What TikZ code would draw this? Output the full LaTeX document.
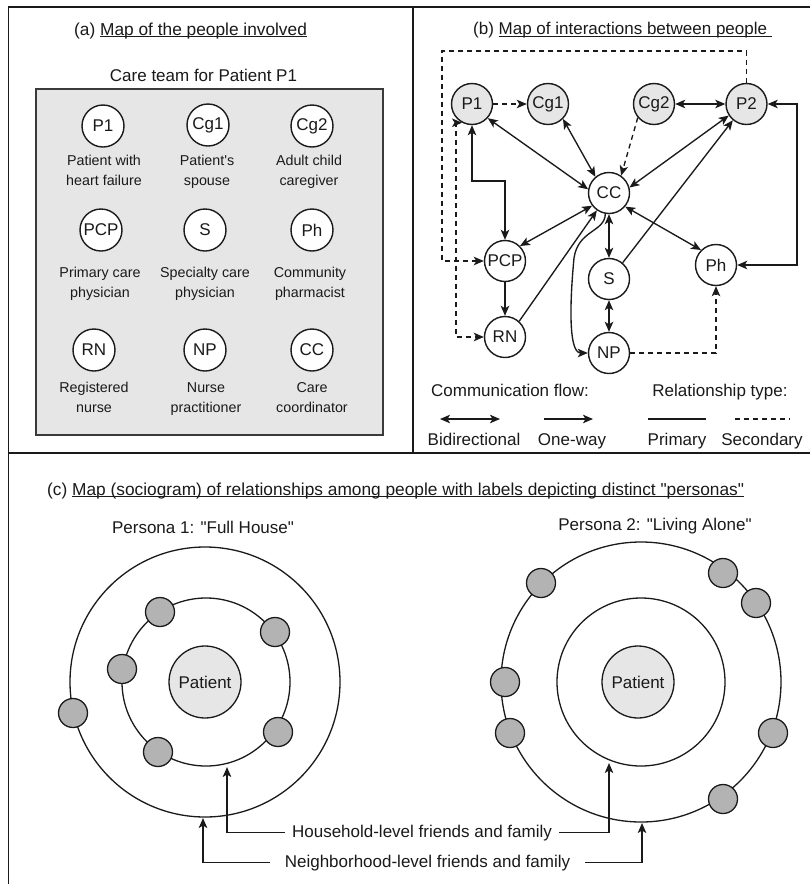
\documentclass[tikz,border=0pt]{standalone}
\usepackage{fontspec}
\newfontfamily\arialf{Liberation Sans}
\usetikzlibrary{arrows.meta}
\definecolor{lg}{HTML}{E6E6E6}
\definecolor{mg}{HTML}{B3B3B3}
\definecolor{ink}{HTML}{1A1A1A}
\definecolor{boxline}{HTML}{3A3A3A}
\newcommand\myul[1]{\setbox0\hbox{#1}\rlap{\rule[-2.2pt]{\wd0}{0.9pt}}\box0}
\newcommand\twolab[5]{\node[lab] (#1a) at (#2,#3) {#4}; \node[lab] (#1b) at (#2,#3+20) {#5};}
\begin{document}
\begin{tikzpicture}[x=1pt,y=-1pt,
 >={Stealth[length=10pt,width=8.5pt,inset=2.5pt]},
 every node/.style={font=\arialf\fontsize{17}{20}\selectfont, text=ink},
 pc/.style={circle, draw=ink, fill=white, line width=1.4pt, minimum size=42pt, inner sep=0pt},
 pcg/.style={pc, fill=lg},
 lab/.style={font=\arialf\fontsize{14.3}{17}\selectfont, anchor=base, inner sep=0pt},
 txt/.style={anchor=base, inner sep=0pt},
 ttl/.style={anchor=base west, inner sep=0pt, font=\arialf\fontsize{17.3}{20}\selectfont},
 edge/.style={draw=ink, line width=1.35pt},
 sec/.style={edge, dash pattern=on 5pt off 4pt},
 ring/.style={draw=ink, line width=1.3pt},
 dot/.style={circle, draw=ink, line width=1.3pt, fill=mg, minimum size=29pt, inner sep=0pt},
 pat/.style={circle, draw=ink, line width=1.3pt, fill=lg, minimum size=72pt, inner sep=0pt}]

\useasboundingbox (0,0) rectangle (810,884);
\fill[white] (0,0) rectangle (810,884);
\draw[ink, line width=1.6pt] (8.5,7) rectangle (812,890);
\draw[ink, line width=1.6pt] (413,7) -- (413,453);
\draw[ink, line width=1.6pt] (8.5,453) -- (812,453);

% ---------- panel (a)
\node[ttl] (ta) at (74,35) {(a) \myul{Map of the people involved}};
\node[txt] (tcare) at (203.5,81.5) {Care team for Patient P1};
\node[draw=boxline, fill=lg, line width=1.6pt, minimum width=347pt, minimum height=346pt, inner sep=0pt] (abox) at (209.5,262) {};

\node[pc] (aP1) at (103,126) {P1};
\node[pc] (aCg1) at (208,125) {Cg1};
\node[pc] (aCg2) at (312,126) {Cg2};
\node[pc] (aPCP) at (101,230) {PCP};
\node[pc] (aS) at (205,230) {S};
\node[pc] (aPh) at (312,230) {Ph};
\node[pc] (aRN) at (94,350) {RN};
\node[pc] (aNP) at (205,350) {NP};
\node[pc] (aCC) at (312,350) {CC};

\twolab{lP1}{104}{165}{Patient with}{heart failure}
\twolab{lCg1}{207}{165}{Patient's}{spouse}
\twolab{lCg2}{309}{165}{Adult child}{caregiver}
\twolab{lPCP}{100}{277.5}{Primary care}{physician}
\twolab{lS}{205}{277.5}{Specialty care}{physician}
\twolab{lPh}{310}{277.5}{Community}{pharmacist}
\twolab{lRN}{94}{392.5}{Registered}{nurse}
\twolab{lNP}{206}{392.5}{Nurse}{practitioner}
\twolab{lCC}{312}{392.5}{Care}{coordinator}

% ---------- panel (b)
\node[txt, anchor=base west] (tb) at (473,34.5) {(b) \myul{Map of interactions between people\ }};

\begin{scope}[pc/.append style={minimum size=41pt}]
\node[pcg] (bP1) at (472,104) {P1};
\node[pcg] (bCg1) at (548,104) {Cg1};
\node[pcg] (bCg2) at (654,104) {Cg2};
\node[pcg] (bP2) at (746.5,104) {P2};
\node[pc] (bCC) at (609,193) {CC};
\node[pc] (bPCP) at (505,261) {PCP};
\node[pc] (bS) at (609,279) {S};
\node[pc] (bPh) at (716,265) {Ph};
\node[pc] (bRN) at (505,337) {RN};
\node[pc] (bNP) at (609,353) {NP};
\end{scope}

\draw[sec,->] (bP1) -- (bCg1);
\draw[edge,<->] (bCg2) -- (bP2);
\draw[edge,<->] (bP1.-42) -- (bCC.170);
\draw[edge,<->] (bCg1.-45) -- (bCC.130);
\draw[sec,->] (bCg2.-140) -- (bCC.55);
\draw[edge,<->] (bP2.-147) -- (bCC.15);
\coordinate (kP) at (505,181);
\draw[edge,<->] (bP1.south) |- (kP) -- (bPCP.north);
\draw[edge,<->] (bPCP.45) -- (bCC.-143);
\draw[edge,->] (bPCP) -- (bRN);
\draw[edge,->] (bRN.48) -- (bCC.-125);
\draw[edge,<->] (bCC) -- (bS);
\draw[edge,->] (bS.50) -- (bP2.-130);
\draw[edge,<->] (bCC.-40) -- (bPh.135);
\draw[edge,<->] (bS) -- (bNP);
\coordinate (kR) at (797,185);
\draw[edge,<->] (bP2.east) -| (kR) |- (bPh.east);
\draw[sec,->] (bNP.east) -| (bPh.south);
\coordinate (kT) at (442,51);
\draw[sec,->] (bP2.north) |- (kT) |- (bPCP.west);
\coordinate (kL) at (456,337);
\draw[sec,<->] (bP1.-118) -| (kL) -- (bRN.west);
\draw[edge,->] (bCC.-100) .. controls (605,232) and (578,230) .. (574,258) .. controls (570,300) and (568,353) .. (bNP.west);

% legend
\node[txt] (lcf) at (510,396.5) {Communication flow:};
\node[txt] (lrt) at (720,396.5) {Relationship type:};
\coordinate (g1) at (440,419); \coordinate (g2) at (500,419);
\coordinate (g3) at (544,419); \coordinate (g4) at (593,419);
\coordinate (g5) at (648,419); \coordinate (g6) at (706,419);
\coordinate (g7) at (735,419); \coordinate (g8) at (790,419);
\draw[edge,<->] (g1) -- (g2);
\draw[edge,->] (g3) -- (g4);
\draw[edge] (g5) -- (g6);
\draw[sec] (g7) -- (g8);
\node[txt] (lbi) at (474,445) {Bidirectional};
\node[txt] (low) at (572,445) {One-way};
\node[txt] (lpr) at (677,445) {Primary};
\node[txt] (lse) at (762,445) {Secondary};

% ---------- panel (c)
\node[ttl] (tc) at (47,495) {(c) \myul{Map (sociogram) of relationships among people with labels depicting distinct "personas"}};
\node[txt] (ps1) at (203,533) {Persona 1: "Full House"};
\node[txt] (ps2) at (655,530) {Persona 2: "Living Alone"};

\draw[ring] (205,682) circle[radius=135];
\draw[ring] (206,682) circle[radius=84];
\node[pat] (pt1) at (205,682) {Patient};
\node[dot] (d1) at (160,612) {};
\node[dot] (d2) at (275,632) {};
\node[dot] (d3) at (122,669) {};
\node[dot] (d4) at (73,713) {};
\node[dot] (d5) at (158,752) {};
\node[dot] (d6) at (278,732) {};

\draw[ring] (641,682) circle[radius=140];
\draw[ring] (641,682) circle[radius=84];
\node[pat] (pt2) at (638,682) {Patient};
\node[dot] (e1) at (541,583) {};
\node[dot] (e2) at (723,573) {};
\node[dot] (e3) at (756,603) {};
\node[dot] (e4) at (505,682) {};
\node[dot] (e5) at (510,733) {};
\node[dot] (e6) at (773,733) {};
\node[dot] (e7) at (723,799) {};

\node[txt, inner xsep=7pt] (hh) at (422,837) {Household-level friends and family};
\node[txt, inner xsep=15pt] (nb) at (427.5,867) {Neighborhood-level friends and family};
\coordinate (h1) at (227,767); \coordinate (h2) at (609,763);
\coordinate (n1) at (203,818); \coordinate (n2) at (642,823);
\draw[edge,->] (hh.west) -| (h1);
\draw[edge,->] (hh.east) -| (h2);
\draw[edge,->] (nb.west) -| (n1);
\draw[edge,->] (nb.east) -| (n2);
\end{tikzpicture}
\end{document}
